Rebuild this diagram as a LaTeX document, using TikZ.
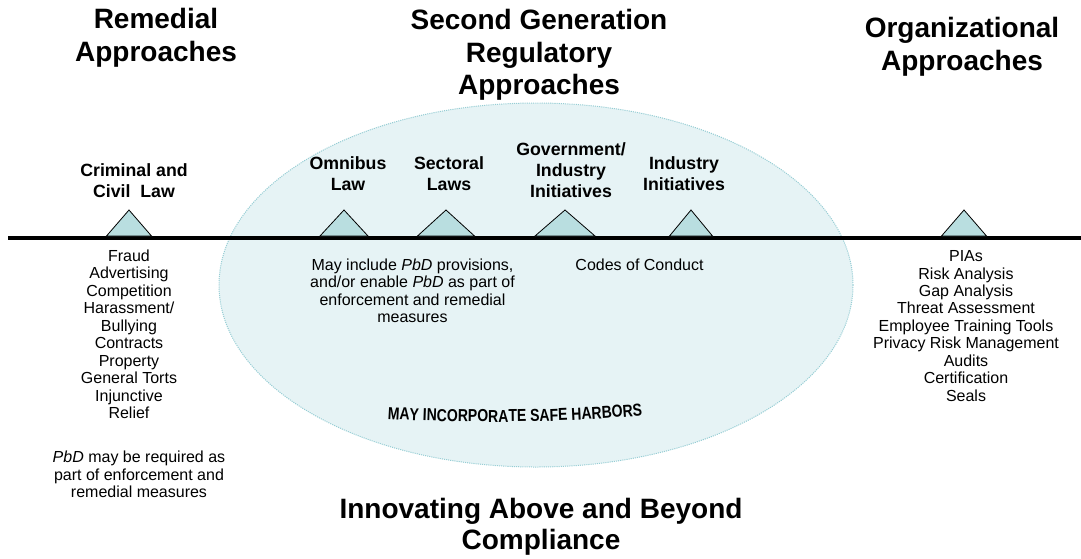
\documentclass[tikz,border=0pt]{standalone}
\usepackage{fontspec}
\setmainfont{Liberation Sans}
\newfontfamily\arcfont{Liberation Sans}[FakeStretch=0.81]
\usetikzlibrary{decorations.text}

\definecolor{ovalfill}{RGB}{230,243,245}
\definecolor{ovaledge}{RGB}{150,205,212}
\definecolor{trifill}{RGB}{185,222,224}

\tikzset{
  heading/.style={font=\fontsize{21}{24.4}\selectfont\bfseries, align=center, inner sep=0pt},
  steplabel/.style={font=\fontsize{13.3}{15.75}\selectfont\bfseries, align=center, inner sep=0pt},
  body/.style={font=\fontsize{12}{13.1}\selectfont, align=center, inner sep=0pt},
  marker/.style={fill=trifill, draw=black, line width=0.6pt, line join=miter},
  timeline/.style={line width=3.2pt},
  oval/.style={fill=ovalfill, draw=ovaledge, line width=0.75pt, dash pattern=on 0.8pt off 0.8pt}
}

\begin{document}
\begin{tikzpicture}[x=0.75pt,y=-0.75pt]
\useasboundingbox (0,0) rectangle (1081,558);

% regulatory zone
\draw[oval] (536,285) ellipse [x radius=317, y radius=182];

% time line and its markers
\coordinate (lineL) at (8,238);
\coordinate (lineR) at (1081,238);
\draw[timeline] (lineL) -- (lineR);
\foreach \cx/\hw in {129/22.5, 344/24, 446/28.5, 565/30, 691/21.5, 964/22.5}
  \draw[marker] (\cx-\hw,236) -- (\cx,210) -- (\cx+\hw,236) -- cycle;

% headings
\node[heading] (remedial) at (156,38) {Remedial\\Approaches};
\node[heading] (secondgen) at (539,55) {Second Generation\\Regulatory\\Approaches};
\node[heading] (organizational) at (962,47) {Organizational\\Approaches};
\node[heading, font=\fontsize{21}{23.6}\selectfont\bfseries] (innovating) at (541,527) {Innovating Above and Beyond\\Compliance};

% marker labels
\node[steplabel] (criminal) at (134,180.5) {Criminal and\\Civil\ \ Law};
\node[steplabel] (omnibus) at (348,174) {Omnibus\\Law};
\node[steplabel] (sectoral) at (449,174) {Sectoral\\Laws};
\node[steplabel] (govind) at (571,170.5) {Government/\\Industry\\Initiatives};
\node[steplabel] (industry) at (684,174) {Industry\\Initiatives};

% descriptions under the line
\node[body] (remedies) at (129,334.4) {Fraud\\Advertising\\Competition\\Harassment/\\Bullying\\Contracts\\Property\\General Torts\\Injunctive\\Relief};
\node[body] (pbdrequired) at (139,474.4) {\textit{PbD} may be required as\\part of enforcement and\\remedial measures};
\node[body] (pbdinclude) at (412.5,290.8) {May include \textit{PbD} provisions,\\and/or enable \textit{PbD} as part of\\enforcement and remedial\\measures};
\node[body, anchor=base] (codes) at (639.5,270.7) {Codes of Conduct};
\node[body] (orgtools) at (966,326) {PIAs\\Risk Analysis\\Gap Analysis\\Threat Assessment\\Employee Training Tools\\Privacy Risk Management\\Audits\\Certification\\Seals};

% arched caption inside the zone
\coordinate (arcS) at (370,418);
\coordinate (arcE) at (660,413.9);
\path[decorate, decoration={text along path, text align=center,
  text={|\arcfont\bfseries\fontsize{13}{14}\selectfont|MAY INCORPORATE SAFE HARBORS}}]
  (arcS) .. controls (466.7,424.5) and (563.3,423.1) .. (arcE);
\end{tikzpicture}
\end{document}
